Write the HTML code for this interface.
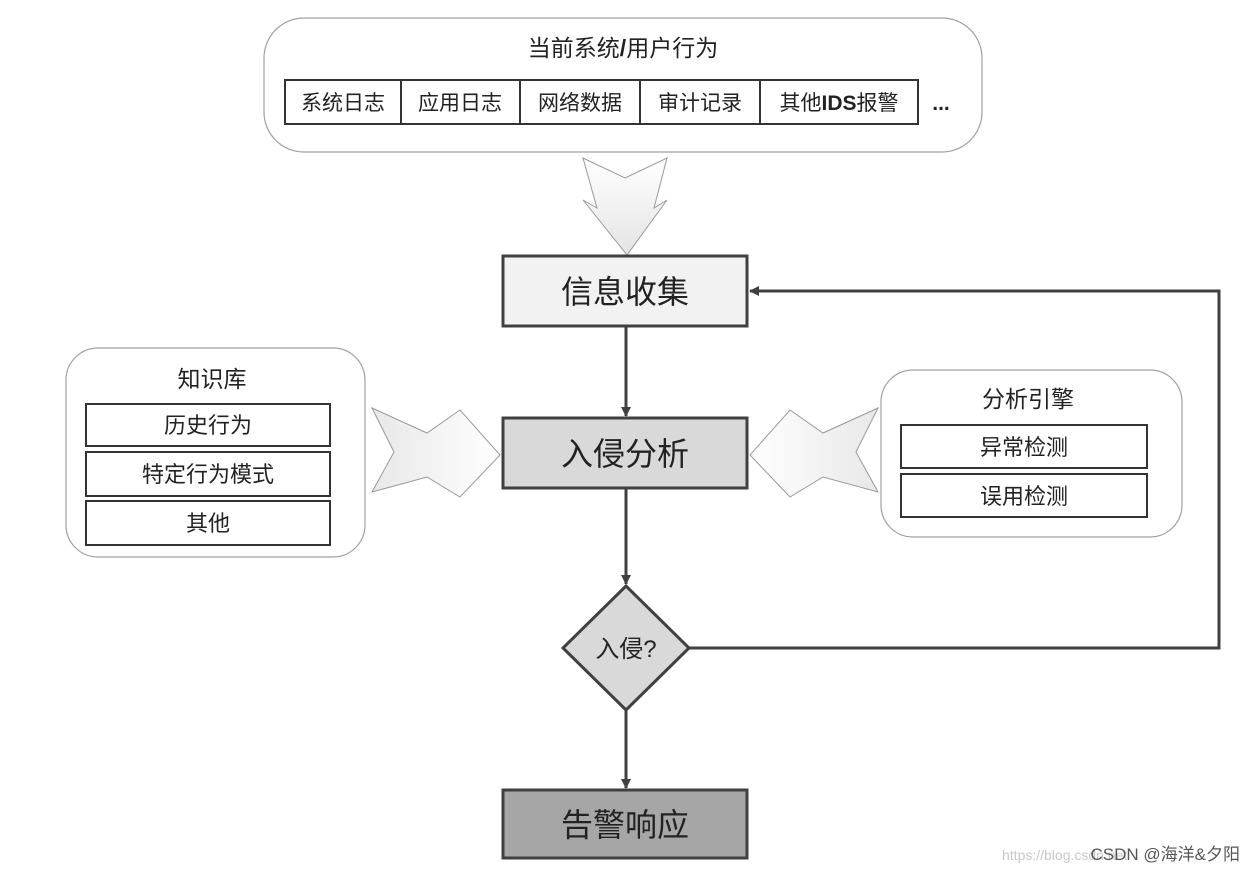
<!DOCTYPE html>
<html><head><meta charset="utf-8"><style>
html,body{margin:0;padding:0;background:#fff;}
svg{display:block;font-family:"Liberation Sans","Noto Sans CJK SC",sans-serif;}
</style></head><body>
<svg width="1256" height="872" viewBox="0 0 1256 872" xmlns="http://www.w3.org/2000/svg">
<defs>
<linearGradient id="g1" x1="0" y1="0" x2="1" y2="0"><stop offset="0" stop-color="#e8e8e8"/><stop offset="1" stop-color="#ffffff"/></linearGradient>
<linearGradient id="g2" x1="0" y1="0" x2="1" y2="0"><stop offset="0" stop-color="#ffffff"/><stop offset="1" stop-color="#e8e8e8"/></linearGradient>
<linearGradient id="g3" x1="0" y1="0" x2="0" y2="1"><stop offset="0" stop-color="#ffffff"/><stop offset="1" stop-color="#e4e4e4"/></linearGradient>
<marker id="ah" markerWidth="10" markerHeight="10" refX="9" refY="5" orient="auto" markerUnits="userSpaceOnUse"><path d="M0,0 L10,5 L0,10 Z" fill="#404040"/></marker>
</defs>
<!-- top box -->
<rect x="264" y="18" width="718" height="134" rx="40" fill="#fff" stroke="#a0a0a0" stroke-width="1.2"/>
<text x="623" y="56" font-size="23" text-anchor="middle" fill="#222">当前系统<tspan font-weight="bold">/</tspan>用户行为</text>
<g fill="#fff" stroke="#333" stroke-width="2">
<rect x="285" y="80" width="116" height="44"/><rect x="401" y="80" width="119" height="44"/><rect x="520" y="80" width="120" height="44"/><rect x="640" y="80" width="120" height="44"/><rect x="760" y="80" width="158" height="44"/>
</g>
<g font-size="21" text-anchor="middle" fill="#222">
<text x="343" y="110">系统日志</text><text x="460" y="110">应用日志</text><text x="580" y="110">网络数据</text><text x="700" y="110">审计记录</text><text x="839" y="110">其他<tspan font-weight="bold">IDS</tspan>报警</text>
<text x="941" y="110" font-weight="bold">...</text>
</g>
<!-- down chevron arrow -->
<polygon points="583,158 625,178 667,158 654,208 667,200 627,255 583,200 597,208" fill="url(#g3)" stroke="#999" stroke-width="1"/>
<!-- main boxes -->
<rect x="503" y="256" width="244" height="70" fill="#f2f2f2" stroke="#404040" stroke-width="3"/>
<text x="625" y="303" font-size="32" text-anchor="middle" fill="#222">信息收集</text>
<rect x="503" y="418" width="244" height="70" fill="#d9d9d9" stroke="#404040" stroke-width="3"/>
<text x="625" y="465" font-size="32" text-anchor="middle" fill="#222">入侵分析</text>
<rect x="503" y="790" width="244" height="68" fill="#a6a6a6" stroke="#404040" stroke-width="3"/>
<text x="625" y="836" font-size="32" text-anchor="middle" fill="#222">告警响应</text>
<polygon points="626,586 689,648 626,710 563,648" fill="#d9d9d9" stroke="#404040" stroke-width="3"/>
<text x="626" y="657" font-size="24" text-anchor="middle" fill="#222">入侵?</text>
<!-- connectors -->
<g stroke="#404040" stroke-width="3" fill="none">
<line x1="626" y1="326" x2="626" y2="416" marker-end="url(#ah)"/>
<line x1="626" y1="488" x2="626" y2="584" marker-end="url(#ah)"/>
<line x1="626" y1="710" x2="626" y2="788" marker-end="url(#ah)"/>
<polyline points="689,648 1219,648 1219,291 750,291" marker-end="url(#ah)"/>
</g>
<!-- left box -->
<rect x="66" y="348" width="299" height="209" rx="32" fill="#fff" stroke="#a0a0a0" stroke-width="1.2"/>
<text x="212" y="387" font-size="23" text-anchor="middle" fill="#222">知识库</text>
<g fill="#fff" stroke="#333" stroke-width="2">
<rect x="86" y="404" width="244" height="42"/><rect x="86" y="452" width="244" height="44"/><rect x="86" y="501" width="244" height="44"/>
</g>
<g font-size="22" text-anchor="middle" fill="#222">
<text x="208" y="433">历史行为</text><text x="208" y="482">特定行为模式</text><text x="208" y="531">其他</text>
</g>
<polygon points="372,408 427,433 460,410 500,455 460,497 427,477 372,492 394,452" fill="url(#g1)" stroke="#999" stroke-width="1"/>
<!-- right box -->
<rect x="881" y="370" width="301" height="167" rx="32" fill="#fff" stroke="#a0a0a0" stroke-width="1.2"/>
<text x="1028" y="407" font-size="23" text-anchor="middle" fill="#222">分析引擎</text>
<g fill="#fff" stroke="#333" stroke-width="2">
<rect x="901" y="425" width="246" height="43"/><rect x="901" y="474" width="246" height="43"/>
</g>
<g font-size="22" text-anchor="middle" fill="#222">
<text x="1024" y="455">异常检测</text><text x="1024" y="504">误用检测</text>
</g>
<polygon points="878,408 823,433 790,410 750,455 790,497 823,477 878,492 856,452" fill="url(#g2)" stroke="#999" stroke-width="1"/>
<!-- watermark -->
<text x="1002" y="860" font-size="14" fill="#c8c8c8">https://blog.csdn.net</text>
<text x="1240" y="860" font-size="17" text-anchor="end" fill="#555">CSDN @海洋&amp;夕阳</text>
</svg>
</body></html>
